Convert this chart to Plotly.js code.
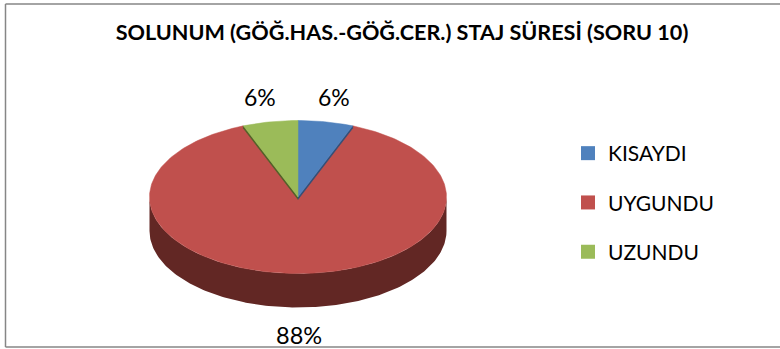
<!DOCTYPE html>
<html>
<head>
<meta charset="utf-8">
<script src="https://cdn.plot.ly/plotly-3.0.1.min.js"></script>
<style>html,body{margin:0;padding:0;background:#fff;overflow:hidden}</style>
</head>
<body>
<div id="chart" style="width:780px;height:349px"></div>
<script>
var titleText = 'SOLUNUM (GÖĞ.HAS.-GÖĞ.CER.) STAJ SÜRESİ (SORU 10)';
var categories = ['KISAYDI', 'UYGUNDU', 'UZUNDU'];
var values = [6, 88, 6];
var colors = ['#4f81bd', '#c0504d', '#9bbb59'];
var sideColors = ['#2f4f78', '#622724', '#4f6228'];

var FONT = 'Lato, Carlito, Calibri, sans-serif';
var cx = 298, cy = 197, rx = 148.5, ry = 76.5, depth = 34, cutDepth = 2.5;
var labelOffsets = [[36, -100], [1, 138], [-38, -100]];
var labelSizes = [23, 23.5, 23];

function pt(t, dy) {
  return [cx + rx * Math.sin(t), cy - ry * Math.cos(t) + (dy || 0)];
}
function arc(t0, t1, dy) {
  var n = Math.max(2, Math.ceil(Math.abs(t1 - t0) / 0.02)), out = [];
  for (var i = 0; i <= n; i++) out.push(pt(t0 + (t1 - t0) * i / n, dy));
  return out;
}
function poly(points, color, lineWidth) {
  return {
    x: points.map(function (p) { return p[0]; }),
    y: points.map(function (p) { return p[1]; }),
    mode: 'lines', fill: 'toself', fillcolor: color,
    line: {color: color, width: lineWidth || 0},
    hoverinfo: 'skip', showlegend: false, type: 'scatter'
  };
}
function sector(i) {
  return [[cx, cy]].concat(arc(angles[i], angles[i + 1])).concat([[cx, cy]]);
}

var total = values.reduce(function (a, b) { return a + b; }, 0);
var angles = [0];
values.forEach(function (v, i) { angles.push(angles[i] + v / total * 2 * Math.PI); });

var traces = [];

// Outer wall of the disc: front half of the ellipse, pushed down by the depth
traces.push(poly(arc(Math.PI / 2, 3 * Math.PI / 2, 0)
  .concat(arc(3 * Math.PI / 2, Math.PI / 2, depth)), sideColors[1]));

// Large slice top face
traces.push(poly(sector(1), colors[1], 0.5));

// Thin cut walls beside the small slices, above the large slice
[[0, angles[1]], [2, angles[2]]].forEach(function (c) {
  var e = pt(c[1]);
  traces.push(poly([[cx, cy], e, [e[0], e[1] + cutDepth], [cx, cy + cutDepth]], sideColors[c[0]], 0.5));
});

// Small slice top faces
[0, 2].forEach(function (i) {
  traces.push(poly(sector(i), colors[i], 0.5));
});

// Legend entries
categories.forEach(function (c, i) {
  traces.push({
    x: [null], y: [null], type: 'scatter', mode: 'markers', name: c,
    legendgroup: c, hoverinfo: 'skip',
    marker: {symbol: 'square', size: 14, color: colors[i]}
  });
});

var annotations = values.map(function (v, i) {
  return {
    x: cx + labelOffsets[i][0], y: cy + labelOffsets[i][1],
    xref: 'x', yref: 'y', text: v + '%', showarrow: false,
    xanchor: 'center', yanchor: 'middle',
    font: {family: FONT, size: labelSizes[i], color: '#000'}
  };
});

function frame(x0, y0, x1, y1) {
  return {type: 'line', xref: 'x', yref: 'y', x0: x0, y0: y0, x1: x1, y1: y1,
    line: {color: '#868686', width: 1.5}};
}

var layout = {
  width: 780, height: 349,
  margin: {l: 0, r: 0, t: 0, b: 0},
  paper_bgcolor: '#fff', plot_bgcolor: '#fff',
  title: {text: titleText, x: 402 / 780, xanchor: 'center', y: 1 - 32 / 349, yanchor: 'middle',
    font: {family: FONT, size: 21.6, color: '#000', weight: 700}},
  xaxis: {range: [0, 780], visible: false, fixedrange: true},
  yaxis: {range: [349, 0], visible: false, fixedrange: true},
  showlegend: true,
  legend: {x: 568 / 780, xanchor: 'left', y: 1 - 133 / 349, yanchor: 'top',
    font: {family: FONT, size: 21, color: '#000'},
    tracegroupgap: 19, bgcolor: 'rgba(0,0,0,0)', itemclick: false, itemdoubleclick: false},
  annotations: annotations,
  shapes: [frame(5.5, 4, 5.5, 347), frame(5.5, 4, 780, 4), frame(5.5, 347, 780, 347)]
};

Plotly.newPlot('chart', traces, layout, {displayModeBar: false, staticPlot: true});
</script>
</body>
</html>
